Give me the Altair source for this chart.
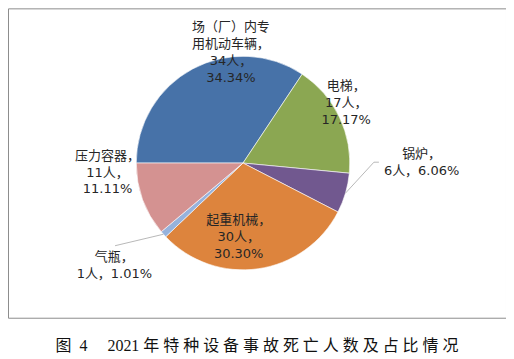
import math
import pandas as pd
import altair as alt

# ---- data ----
categories = ["场（厂）内专用机动车辆", "电梯", "锅炉", "起重机械", "气瓶", "压力容器"]
name_lines = ["场（厂）内专\n用机动车辆", "电梯", "锅炉", "起重机械", "气瓶", "压力容器"]
deaths = [34, 17, 6, 30, 1, 11]
percents = ["34.34%", "17.17%", "6.06%", "30.30%", "1.01%", "11.11%"]
colors = ["#4772A8", "#8BA752", "#71588F", "#DD843D", "#96B2DC", "#D49291"]
caption_head = "图\u20024"
caption_body = "2021\u2005年特种设备事故死亡人数及占比情况"

# ---- layout ----
CX, CY, R = 235.5, 155, 107
W, H = 499, 310
LH = 17
one_line_numbers = {"锅炉", "气瓶"}
label_layout = {  # radius along slice middle, then dx, dy (block centre)
    "场（厂）内专用机动车辆": (104, 37, -19),
    "电梯": (120, -5, -9),
    "锅炉": (175, 11, -50),
    "起重机械": (75, -15, 0),
    "气瓶": (165, -6, -7),
    "压力容器": (136, -8, -37),
}

labels = []
for c, nl, d, p in zip(categories, name_lines, deaths, percents):
    sep = "" if c in one_line_numbers else "\n"
    labels.append(f"{nl}，\n{d}人，{sep}{p}")

df = pd.DataFrame({
    "category": categories,
    "deaths": deaths,
    "label": labels,
    "order": list(range(len(categories))),
})

total = sum(deaths)
start = 1.5 * math.pi
theta_scale = alt.Scale(domain=[0, total], range=[start, start + 2 * math.pi])

base = alt.Chart(df).transform_stack(
    stack="deaths", groupby=[], as_=["s0", "s1"], sort=[alt.SortField("order")]
).transform_calculate(mid="(datum.s0 + datum.s1) / 2")

arcs = base.mark_arc(radius=R, stroke="white", strokeWidth=0.6).encode(
    theta=alt.Theta("s0:Q", scale=theta_scale),
    theta2="s1:Q",
    color=alt.Color("category:N", scale=alt.Scale(domain=categories, range=colors), legend=None),
    x=alt.value(CX),
    y=alt.value(CY),
)

# leader lines from the slice edge to the label
cum = 0
mids = {}
for c, d in zip(categories, deaths):
    mids[c] = start + 2 * math.pi * (cum + d / 2) / total
    cum += d

def edge(c, r=R):
    a = mids[c]
    return CX + r * math.sin(a), CY - r * math.cos(a)

leader_rows = []
ex, ey = edge("锅炉")
for i, (ox, oy) in enumerate([(0, 0), (28.5, -31), (33.5, -31)]):
    leader_rows.append({"cat": "锅炉", "i": i, "px": ex + ox, "py": ey + oy})
ex, ey = edge("气瓶")
for i, (ox, oy) in enumerate([(0, 0), (-48.5, 11.5)]):
    leader_rows.append({"cat": "气瓶", "i": i, "px": ex + ox, "py": ey + oy})

leaders = alt.Chart(pd.DataFrame(leader_rows)).mark_line(color="#A6A6A6", strokeWidth=0.8).encode(
    x=alt.X("px:Q", scale=None),
    y=alt.Y("py:Q", scale=None),
    detail="cat:N",
    order="i:Q",
)

text_layers = []
for c, lab in zip(categories, labels):
    r, dx, dy = label_layout[c]
    n = lab.count("\n") + 1
    t = base.transform_filter(alt.datum.category == c).mark_text(
        radius=r, dx=dx, dy=dy - (n - 1) * LH / 2, fontSize=13, lineHeight=LH, lineBreak="\n",
        font="DejaVu Sans, Noto Sans CJK SC", color="#262626",
        align="center", baseline="middle",
    ).encode(
        theta=alt.Theta("mid:Q", scale=theta_scale),
        text="label:N",
        x=alt.value(CX),
        y=alt.value(CY),
    )
    text_layers.append(t)

caption = caption_head + "\u2003\u2005" + "\u2005".join(
    [caption_body[:5]] + list(caption_body[5:])
).replace("2021\u2005\u2005", "2021\u2005")

chart = alt.layer(arcs, leaders, *text_layers).properties(
    width=W,
    height=H,
    padding={"left": 0, "top": 0, "right": 0, "bottom": 6},
    title=alt.Title(
        caption, orient="bottom", anchor="middle", offset=20,
        font="Liberation Serif, Noto Sans CJK SC", fontSize=16, fontWeight="normal", color="#111111",
    ),
).configure_view(stroke="#8C8C8C", strokeWidth=1)

chart.save("out.html", embed_options={"renderer": "svg", "actions": False})
